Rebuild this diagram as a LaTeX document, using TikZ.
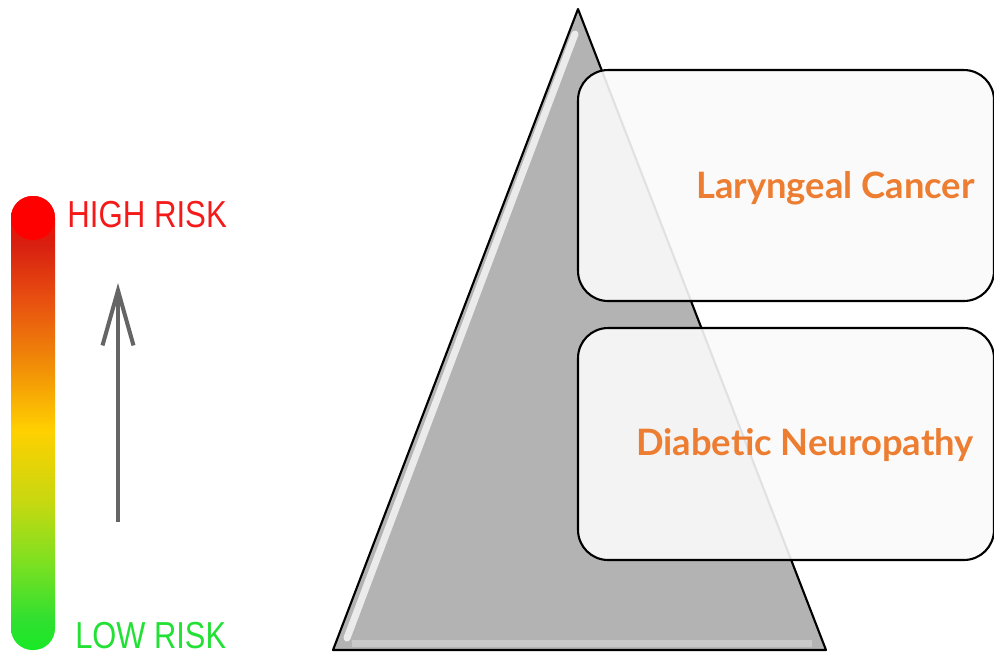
\documentclass[tikz,border=0pt]{standalone}
\usepackage{fontspec}
\usepackage{graphicx}
\usepackage{tikz}
\usetikzlibrary{arrows.meta}
\newfontfamily\riskfont{Liberation Sans}
\newfontfamily\boxfont{Lato}
\definecolor{boxorange}{HTML}{ED7D31}
\definecolor{pyramidgray}{HTML}{B3B3B3}
\definecolor{arrowgray}{HTML}{656565}
\definecolor{highred}{HTML}{F51A1A}
\definecolor{lowgreen}{HTML}{22E034}
\pgfdeclareverticalshading{riskbar}{100bp}{%
  color(0bp)=(lowgreen!70!green); color(25bp)=(lowgreen!70!green);
  color(28.3bp)=({rgb,255:red,48;green,224;blue,48});
  color(34.9bp)=({rgb,255:red,128;green,224;blue,32});
  color(41.5bp)=({rgb,255:red,200;green,216;blue,16});
  color(49.2bp)=({rgb,255:red,255;green,208;blue,0});
  color(56.9bp)=({rgb,255:red,240;green,136;blue,8});
  color(63.5bp)=({rgb,255:red,232;green,80;blue,16});
  color(69.6bp)=({rgb,255:red,216;green,32;blue,16});
  color(75bp)=(red); color(100bp)=(red)}

\begin{document}
\begin{tikzpicture}[x=0.02cm,y=-0.02cm,
  riskbox/.style={draw=black,line width=1.2pt,fill={rgb,255:red,250;green,250;blue,250},
    fill opacity=0.9,rounded corners=0.6cm,inner sep=0pt,minimum width=8.32cm},
  risklabel/.style={anchor=base east,text=boxorange,inner sep=0pt,
    font=\boxfont\bfseries\fontsize{20.7}{24}\selectfont},
  scalelabel/.style={anchor=base west,inner sep=0pt,
    font=\riskfont\fontsize{21.4}{24}\selectfont},
  riskarrow/.style={arrowgray,line width=2.3pt,
    -{Straight Barb[length=1.1cm,width=0.62cm,line width=2.3pt]}}]
\useasboundingbox (0,0) rectangle (994,654);
% colour scale on the left
\shade[shading=riskbar,rounded corners=0.43cm] (11,196) rectangle (55,650);
\fill[red] (33,218) circle (0.44cm);
\node[scalelabel,text=highred] (high) at (67,227) {\scalebox{0.83}[1]{HIGH RISK}};
\node[scalelabel,text=lowgreen] (low) at (75,648) {\scalebox{0.82}[1]{LOW RISK}};
\coordinate (arrowfoot) at (118,522);
\coordinate (arrowhead) at (118,283);
\draw[riskarrow] (arrowfoot) -- (arrowhead);
% pyramid
\coordinate (apex) at (578,9);
\coordinate (baseleft) at (333,650);
\coordinate (baseright) at (826,650);
\fill[pyramidgray] (apex) -- (baseleft) -- (baseright) -- cycle;
\draw[white,line width=4pt,line cap=round,opacity=0.75] (575,34) -- (347,638);
\draw[white,line width=4pt,opacity=0.3] (352,643) -- (812,643);
\draw[black,line width=1.2pt,line join=round] (apex) -- (baseleft) -- (baseright) -- cycle;
% boxes
\node[riskbox,minimum height=4.62cm] (upper) at (786,185.5) {};
\node[riskbox,minimum height=4.64cm] (lower) at (786,444) {};
\node[risklabel] (larynx) at (975,198) {Laryngeal Cancer};
\node[risklabel] (neuro) at (974,455) {Diabetic Neuropathy};
\end{tikzpicture}
\end{document}
